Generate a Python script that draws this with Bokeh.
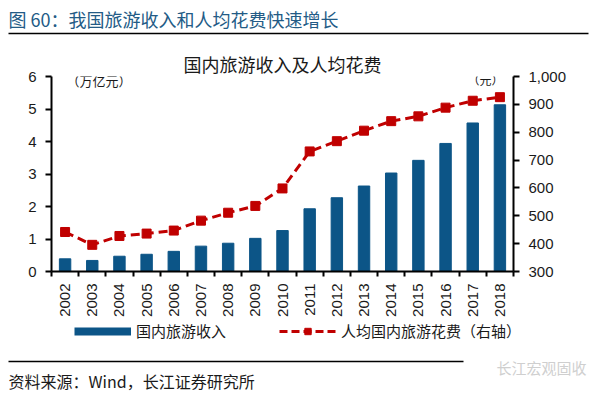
import math
from bokeh.plotting import figure
from bokeh.layouts import column, row
from bokeh.models import (Range1d, LinearAxis, FixedTicker, NumeralTickFormatter,
                          Label, BoxAnnotation, Legend, LegendItem, ColumnDataSource)
from bokeh.embed import file_html
from bokeh.resources import INLINE

# ---------------- data ----------------
years = ["2002", "2003", "2004", "2005", "2006", "2007", "2008", "2009", "2010",
         "2011", "2012", "2013", "2014", "2015", "2016", "2017", "2018"]
revenue = [0.39, 0.34, 0.47, 0.53, 0.62, 0.78, 0.87, 1.02, 1.26,
           1.93, 2.27, 2.63, 3.03, 3.42, 3.94, 4.57, 5.13]          # 万亿元
per_capita = [441.8, 395.7, 427.5, 436.1, 446.9, 482.6, 511.0, 535.4, 598.2,
              731.0, 767.9, 805.5, 839.7, 857.0, 888.2, 913.0, 925.8]  # 元
left_ticks = [0, 1, 2, 3, 4, 5, 6]
right_ticks = [300, 400, 500, 600, 700, 800, 900, 1000]

BLUE = "#0c5587"
RED = "#c00000"
TXT = "#1a1a1a"
NUM_FONT = "Liberation Sans"
CJK_FONT = "Noto Sans CJK SC"
W = 600
NAN = float("nan")


def blank(height):
    f = figure(width=W, height=height, output_backend="svg", toolbar_location=None,
               x_range=Range1d(0, 1), y_range=Range1d(0, 1),
               min_border=0, x_axis_location=None, y_axis_location=None)
    f.outline_line_color = None
    f.xgrid.visible = False
    f.ygrid.visible = False
    return f


def hline(f, left, right, y):
    f.add_layout(BoxAnnotation(left=left, right=right, bottom=y - 0.75, top=y + 0.75,
                               left_units="screen", right_units="screen",
                               bottom_units="screen", top_units="screen",
                               fill_color="black", fill_alpha=1, line_color=None))


# ---------------- header ----------------
top = blank(48)
top.add_layout(Label(x=8, y=30, x_units="screen", y_units="screen",
                     text="图 60：我国旅游收入和人均花费快速增长", text_font=CJK_FONT,
                     text_font_size="18px", text_color="#235b86", text_baseline="middle"))
hline(top, 8, 588, 15)

# ---------------- main chart ----------------
idx = list(range(len(years)))
src = ColumnDataSource(dict(x=idx, rev=revenue, pc=per_capita))

p = figure(width=W, height=272, output_backend="svg", toolbar_location=None,
           x_range=Range1d(-0.5, len(years) - 0.5),
           y_range=Range1d(left_ticks[0], left_ticks[-1]),
           min_border_left=51, min_border_right=87,
           min_border_top=26, min_border_bottom=49,
           x_axis_location=None, y_axis_location=None)
p.outline_line_color = None
p.xgrid.visible = False
p.ygrid.visible = False
p.extra_y_ranges = {"r": Range1d(right_ticks[0], right_ticks[-1])}

p.title.text = "国内旅游收入及人均花费"
p.title.align = "center"
p.title.text_font = CJK_FONT
p.title.text_font_size = "18px"
p.title.text_font_style = "normal"
p.title.text_color = TXT
p.title.standoff = 0

p.vbar(x="x", top="rev", width=0.42, source=src, color=BLUE)
p.line(x="x", y="pc", source=src, y_range_name="r", line_color=RED,
       line_width=3, line_dash="9 5")
p.scatter(x="x", y="pc", source=src, y_range_name="r", marker="square",
          size=9, fill_color=RED, line_color=RED)


def style_axis(ax):
    ax.axis_line_color = "black"
    ax.axis_line_width = 2
    ax.major_tick_line_color = "black"
    ax.major_tick_line_width = 2
    ax.major_tick_in = 0
    ax.major_tick_out = 6
    ax.minor_tick_line_color = None
    ax.major_label_text_font = NUM_FONT
    ax.major_label_text_font_size = "15px"
    ax.major_label_text_color = TXT
    ax.major_label_standoff = 9


xa = LinearAxis(ticker=FixedTicker(ticks=idx, minor_ticks=[i - 0.5 for i in range(len(years) + 1)]))
style_axis(xa)
xa.major_tick_line_color = None
xa.major_tick_out = 0
xa.minor_tick_line_color = "black"
xa.minor_tick_line_width = 2
xa.minor_tick_in = 0
xa.minor_tick_out = 5
xa.major_label_overrides = {i: y for i, y in zip(idx, years)}
xa.major_label_orientation = math.pi / 2
xa.major_label_standoff = 7
p.add_layout(xa, "below")

ya = LinearAxis(ticker=FixedTicker(ticks=left_ticks))
style_axis(ya)
p.add_layout(ya, "left")

ra = LinearAxis(y_range_name="r", ticker=FixedTicker(ticks=right_ticks),
                formatter=NumeralTickFormatter(format="0,0"))
style_axis(ra)
p.add_layout(ra, "right")

p.add_layout(Label(x=15, y=191, x_units="screen", y_units="screen",
                   text="（万亿元）", text_font=CJK_FONT, text_font_size="13px",
                   text_color=TXT, text_baseline="middle"))
p.add_layout(Label(x=416, y=192, x_units="screen", y_units="screen",
                   text="（元）", text_font=CJK_FONT, text_font_size="12px",
                   text_color=TXT, text_baseline="middle"))

# ---------------- footer: legend + source ----------------
bot = blank(74)
lg_bar = bot.line(x=[NAN], y=[NAN], line_color=BLUE, line_width=8)
lg_line = bot.line(x=[NAN], y=[NAN], line_color=RED, line_width=3, line_dash="8 4")
lg_mark = bot.scatter(x=[NAN], y=[NAN], marker="square", size=10, fill_color=RED, line_color=RED)
legend = Legend(items=[LegendItem(label="国内旅游收入", renderers=[lg_bar]),
                       LegendItem(label="人均国内旅游花费（右轴）", renderers=[lg_line, lg_mark])],
                orientation="horizontal", location=(74, 53),
                glyph_width=57, glyph_height=16, label_height=16,
                label_standoff=5, spacing=53, padding=0, margin=0,
                border_line_color=None, background_fill_alpha=0,
                label_text_font=CJK_FONT, label_text_font_size="15px",
                label_text_color=TXT)
bot.add_layout(legend)
hline(bot, 8, 463, 33)
bot.add_layout(Label(x=8, y=14, x_units="screen", y_units="screen",
                     text="资料来源：Wind，长江证券研究所", text_font=CJK_FONT,
                     text_font_size="16px", text_color=TXT, text_baseline="middle"))
bot.add_layout(Label(x=496, y=27, x_units="screen", y_units="screen",
                     text="长江宏观固收", text_font=CJK_FONT,
                     text_font_size="15px", text_color="#cfcfcf", text_baseline="middle"))

layout = column(row(top), p, row(bot), spacing=0)
open("out.html", "w").write(file_html(layout, INLINE))
